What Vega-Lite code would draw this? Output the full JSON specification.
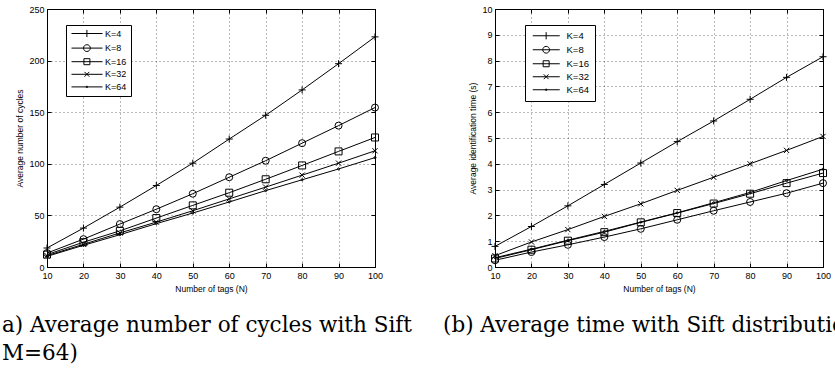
{
  "$schema": "https://vega.github.io/schema/vega-lite/v6.json",
  "autosize": {"type": "pad"},
  "padding": {"left": 1, "top": 4, "right": 0, "bottom": 0},
  "background": "white",
  "bounds": "flush",
  "spacing": 120,
  "datasets": {
    "cycles": [
      {"N": 10, "K": "K=4", "v": 18.4}, {"N": 20, "K": "K=4", "v": 37.7}, {"N": 30, "K": "K=4", "v": 58}, {"N": 40, "K": "K=4", "v": 79}, {"N": 50, "K": "K=4", "v": 100.6}, {"N": 60, "K": "K=4", "v": 124}, {"N": 70, "K": "K=4", "v": 147}, {"N": 80, "K": "K=4", "v": 171.6}, {"N": 90, "K": "K=4", "v": 197}, {"N": 100, "K": "K=4", "v": 223},
      {"N": 10, "K": "K=8", "v": 13.5}, {"N": 20, "K": "K=8", "v": 27}, {"N": 30, "K": "K=8", "v": 41.6}, {"N": 40, "K": "K=8", "v": 56}, {"N": 50, "K": "K=8", "v": 71}, {"N": 60, "K": "K=8", "v": 87}, {"N": 70, "K": "K=8", "v": 103}, {"N": 80, "K": "K=8", "v": 120}, {"N": 90, "K": "K=8", "v": 137}, {"N": 100, "K": "K=8", "v": 154.5},
      {"N": 10, "K": "K=16", "v": 12}, {"N": 20, "K": "K=16", "v": 24}, {"N": 30, "K": "K=16", "v": 35}, {"N": 40, "K": "K=16", "v": 47.4}, {"N": 50, "K": "K=16", "v": 59.7}, {"N": 60, "K": "K=16", "v": 72}, {"N": 70, "K": "K=16", "v": 85}, {"N": 80, "K": "K=16", "v": 98.4}, {"N": 90, "K": "K=16", "v": 112}, {"N": 100, "K": "K=16", "v": 125.5},
      {"N": 10, "K": "K=32", "v": 11}, {"N": 20, "K": "K=32", "v": 22}, {"N": 30, "K": "K=32", "v": 33}, {"N": 40, "K": "K=32", "v": 43.5}, {"N": 50, "K": "K=32", "v": 54.5}, {"N": 60, "K": "K=32", "v": 66}, {"N": 70, "K": "K=32", "v": 77.4}, {"N": 80, "K": "K=32", "v": 89}, {"N": 90, "K": "K=32", "v": 100.6}, {"N": 100, "K": "K=32", "v": 112.6},
      {"N": 10, "K": "K=64", "v": 10.3}, {"N": 20, "K": "K=64", "v": 21}, {"N": 30, "K": "K=64", "v": 31.3}, {"N": 40, "K": "K=64", "v": 42}, {"N": 50, "K": "K=64", "v": 52.3}, {"N": 60, "K": "K=64", "v": 63}, {"N": 70, "K": "K=64", "v": 74}, {"N": 80, "K": "K=64", "v": 84.5}, {"N": 90, "K": "K=64", "v": 95}, {"N": 100, "K": "K=64", "v": 106}
    ],
    "time": [
      {"N": 10, "K": "K=4", "v": 0.8}, {"N": 20, "K": "K=4", "v": 1.57}, {"N": 30, "K": "K=4", "v": 2.37}, {"N": 40, "K": "K=4", "v": 3.2}, {"N": 50, "K": "K=4", "v": 4.03}, {"N": 60, "K": "K=4", "v": 4.86}, {"N": 70, "K": "K=4", "v": 5.66}, {"N": 80, "K": "K=4", "v": 6.5}, {"N": 90, "K": "K=4", "v": 7.35}, {"N": 100, "K": "K=4", "v": 8.15},
      {"N": 10, "K": "K=8", "v": 0.26}, {"N": 20, "K": "K=8", "v": 0.58}, {"N": 30, "K": "K=8", "v": 0.86}, {"N": 40, "K": "K=8", "v": 1.16}, {"N": 50, "K": "K=8", "v": 1.48}, {"N": 60, "K": "K=8", "v": 1.83}, {"N": 70, "K": "K=8", "v": 2.18}, {"N": 80, "K": "K=8", "v": 2.52}, {"N": 90, "K": "K=8", "v": 2.86}, {"N": 100, "K": "K=8", "v": 3.25},
      {"N": 10, "K": "K=16", "v": 0.33}, {"N": 20, "K": "K=16", "v": 0.67}, {"N": 30, "K": "K=16", "v": 1.02}, {"N": 40, "K": "K=16", "v": 1.35}, {"N": 50, "K": "K=16", "v": 1.73}, {"N": 60, "K": "K=16", "v": 2.09}, {"N": 70, "K": "K=16", "v": 2.46}, {"N": 80, "K": "K=16", "v": 2.84}, {"N": 90, "K": "K=16", "v": 3.25}, {"N": 100, "K": "K=16", "v": 3.64},
      {"N": 10, "K": "K=32", "v": 0.44}, {"N": 20, "K": "K=32", "v": 0.97}, {"N": 30, "K": "K=32", "v": 1.45}, {"N": 40, "K": "K=32", "v": 1.96}, {"N": 50, "K": "K=32", "v": 2.45}, {"N": 60, "K": "K=32", "v": 2.97}, {"N": 70, "K": "K=32", "v": 3.48}, {"N": 80, "K": "K=32", "v": 4.0}, {"N": 90, "K": "K=32", "v": 4.52}, {"N": 100, "K": "K=32", "v": 5.06},
      {"N": 10, "K": "K=64", "v": 0.36}, {"N": 20, "K": "K=64", "v": 0.69}, {"N": 30, "K": "K=64", "v": 1.04}, {"N": 40, "K": "K=64", "v": 1.38}, {"N": 50, "K": "K=64", "v": 1.74}, {"N": 60, "K": "K=64", "v": 2.1}, {"N": 70, "K": "K=64", "v": 2.49}, {"N": 80, "K": "K=64", "v": 2.89}, {"N": 90, "K": "K=64", "v": 3.35}, {"N": 100, "K": "K=64", "v": 3.79}
    ]
  },
  "hconcat": [
    {
      "width": 328,
      "height": 258,
      "data": {"name": "cycles"},
      "title": {"text": ["a) Average number of cycles with Sift", "M=64)"], "orient": "bottom", "anchor": "start", "frame": "group", "dx": -45, "offset": 22, "font": "DejaVu Serif", "fontSize": 21.5, "fontWeight": "normal", "lineHeight": 28, "color": "black"},
      "resolve": {"scale": {"shape": "independent"}, "axis": {"x": "independent", "y": "independent"}},
      "layer": [
        {
          "mark": {"type": "line", "color": "black", "strokeWidth": 1},
          "encoding": {
            "x": {"field": "N", "type": "quantitative", "scale": {"domain": [10, 100], "nice": false, "zero": false},
                  "axis": {"orient": "bottom", "title": "Number of tags (N)", "values": [10, 20, 30, 40, 50, 60, 70, 80, 90, 100], "grid": true, "tickSize": -4, "labelPadding": 8}},
            "y": {"field": "v", "type": "quantitative", "scale": {"domain": [0, 250], "nice": false},
                  "axis": {"orient": "left", "title": "Average number of cycles", "values": [0, 50, 100, 150, 200, 250], "grid": true, "tickSize": -4, "labelPadding": 7}},
            "detail": {"field": "K"}
          }
        },
        {
          "mark": {"type": "point", "filled": false, "color": "black", "size": 49, "strokeWidth": 1, "opacity": 1},
          "encoding": {
            "x": {"field": "N", "type": "quantitative", "axis": {"orient": "top", "labels": false, "title": null, "grid": false, "tickSize": -4, "values": [10, 20, 30, 40, 50, 60, 70, 80, 90, 100]}},
            "y": {"field": "v", "type": "quantitative", "axis": {"orient": "right", "labels": false, "title": null, "grid": false, "tickSize": -4, "values": [0, 50, 100, 150, 200, 250]}},
            "shape": {"field": "K", "type": "nominal", "legend": null,
                      "scale": {"domain": ["K=4", "K=8", "K=16", "K=32", "K=64"],
                                "range": ["M-1,0L1,0M0,-1L0,1", "circle", "square", "M-0.75,-0.75L0.75,0.75M-0.75,0.75L0.75,-0.75", "M-0.3,0A0.3,0.3,0,1,0,0.3,0A0.3,0.3,0,1,0,-0.3,0"]}}
          }
        },
        {
          "mark": {"type": "point", "filled": false, "color": "black", "size": 64, "strokeWidth": 1, "opacity": 0},
          "encoding": {
            "x": {"field": "N", "type": "quantitative", "axis": null},
            "y": {"field": "v", "type": "quantitative", "axis": null},
            "shape": {"field": "K", "type": "nominal",
                      "legend": {"title": null, "orient": "none", "legendX": 19, "legendY": 16, "rowPadding": 2.6},
                      "scale": {"domain": ["K=4", "K=8", "K=16", "K=32", "K=64"],
                                "range": ["M-0.75,0L7,0M3.1,-0.9L3.1,0.9", "M-0.75,0L7,0M2.25,0A0.85,0.85,0,1,0,3.95,0A0.85,0.85,0,1,0,2.25,0", "M-0.75,0L7,0M2.35,-0.75L3.85,-0.75L3.85,0.75L2.35,0.75Z", "M-0.75,0L7,0M2.5,-0.6L3.7,0.6M2.5,0.6L3.7,-0.6", "M-0.75,0L7,0M2.9,0A0.2,0.2,0,1,0,3.3,0A0.2,0.2,0,1,0,2.9,0"]}}
          }
        }
      ]
    },
    {
      "width": 328,
      "height": 258,
      "data": {"name": "time"},
      "title": {"text": "(b) Average time with Sift distribution", "orient": "bottom", "anchor": "start", "frame": "group", "dx": -52, "offset": 22, "font": "DejaVu Serif", "fontSize": 21.5, "fontWeight": "normal", "lineHeight": 28, "color": "black"},
      "resolve": {"scale": {"shape": "independent"}, "axis": {"x": "independent", "y": "independent"}},
      "layer": [
        {
          "mark": {"type": "line", "color": "black", "strokeWidth": 1},
          "encoding": {
            "x": {"field": "N", "type": "quantitative", "scale": {"domain": [10, 100], "nice": false, "zero": false},
                  "axis": {"orient": "bottom", "title": "Number of tags (N)", "values": [10, 20, 30, 40, 50, 60, 70, 80, 90, 100], "grid": true, "tickSize": -4, "labelPadding": 8}},
            "y": {"field": "v", "type": "quantitative", "scale": {"domain": [0, 10], "nice": false},
                  "axis": {"orient": "left", "title": "Average identification time (s)", "values": [0, 1, 2, 3, 4, 5, 6, 7, 8, 9, 10], "grid": true, "tickSize": -4, "labelPadding": 7}},
            "detail": {"field": "K"}
          }
        },
        {
          "mark": {"type": "point", "filled": false, "color": "black", "size": 49, "strokeWidth": 1, "opacity": 1},
          "encoding": {
            "x": {"field": "N", "type": "quantitative", "axis": {"orient": "top", "labels": false, "title": null, "grid": false, "tickSize": -4, "values": [10, 20, 30, 40, 50, 60, 70, 80, 90, 100]}},
            "y": {"field": "v", "type": "quantitative", "axis": {"orient": "right", "labels": false, "title": null, "grid": false, "tickSize": -4, "values": [0, 1, 2, 3, 4, 5, 6, 7, 8, 9, 10]}},
            "shape": {"field": "K", "type": "nominal", "legend": null,
                      "scale": {"domain": ["K=4", "K=8", "K=16", "K=32", "K=64"],
                                "range": ["M-1,0L1,0M0,-1L0,1", "circle", "square", "M-0.75,-0.75L0.75,0.75M-0.75,0.75L0.75,-0.75", "M-0.3,0A0.3,0.3,0,1,0,0.3,0A0.3,0.3,0,1,0,-0.3,0"]}}
          }
        },
        {
          "mark": {"type": "point", "filled": false, "color": "black", "size": 64, "strokeWidth": 1, "opacity": 0},
          "encoding": {
            "x": {"field": "N", "type": "quantitative", "axis": null},
            "y": {"field": "v", "type": "quantitative", "axis": null},
            "shape": {"field": "K", "type": "nominal",
                      "legend": {"title": null, "orient": "none", "legendX": 30, "legendY": 16, "padding": 6, "labelFontSize": 9.5, "rowPadding": 2},
                      "scale": {"domain": ["K=4", "K=8", "K=16", "K=32", "K=64"],
                                "range": ["M-0.75,0L6,0M2.6,-0.9L2.6,0.9", "M-0.75,0L6,0M1.75,0A0.85,0.85,0,1,0,3.45,0A0.85,0.85,0,1,0,1.75,0", "M-0.75,0L6,0M1.85,-0.75L3.35,-0.75L3.35,0.75L1.85,0.75Z", "M-0.75,0L6,0M2,-0.6L3.2,0.6M2,0.6L3.2,-0.6", "M-0.75,0L6,0M2.4,0A0.2,0.2,0,1,0,2.8,0A0.2,0.2,0,1,0,2.4,0"]}}
          }
        }
      ]
    }
  ],
  "config": {
    "view": {"stroke": "black", "strokeWidth": 1},
    "axis": {
      "domainColor": "black", "domainWidth": 1, "tickColor": "black", "tickWidth": 1,
      "labelFont": "Liberation Sans", "labelFontSize": 9, "labelColor": "black",
      "titleFont": "Liberation Sans", "titleFontSize": 8.5, "titleFontWeight": "normal", "titleColor": "black",
      "gridColor": "black", "gridOpacity": 0.55, "gridDash": [1, 3], "gridWidth": 1,
      "labelFlush": false, "labelOverlap": false
    },
    "legend": {
      "strokeColor": "black", "fillColor": "white", "padding": 4,
      "labelFont": "Liberation Sans", "labelFontSize": 9, "labelColor": "black", "labelOffset": 26,
      "symbolSize": 64, "symbolStrokeColor": "black", "symbolFillColor": "transparent", "symbolStrokeWidth": 1, "symbolOpacity": 1
    }
  }
}
